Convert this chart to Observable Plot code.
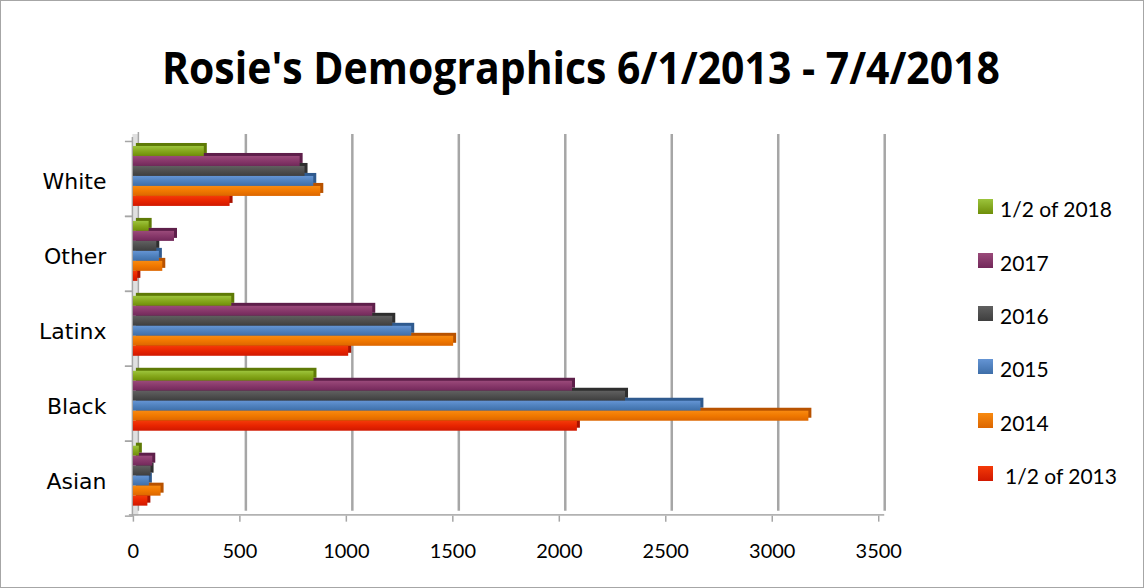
<!DOCTYPE html>
<html>
<head>
<meta charset="utf-8">
<script src="https://cdn.jsdelivr.net/npm/d3@7"></script>
<script src="https://cdn.jsdelivr.net/npm/@observablehq/plot@0.6"></script>
<style>
  html, body { margin: 0; padding: 0; background: #fff; }
  #wrap { position: relative; width: 1144px; height: 588px; box-sizing: border-box; border: 1px solid #a6a6a6; overflow: hidden; background: #fff; }
  #title { position: absolute; left: 0; top: 0; }
  #chart { position: absolute; left: -1px; top: 119px; }
  #legend { position: absolute; left: 977px; top: 0; font-family: Lato, "Open Sans", sans-serif; font-size: 21px; color: #000; }
  .item { position: absolute; left: 0; white-space: nowrap; }
  .sw { position: absolute; left: 0; width: 15px; height: 15px; }
  .lt { position: absolute; left: 22px; top: -3px; }
</style>
</head>
<body>
<div id="wrap">
  <svg id="title" width="1144" height="120">
    <text x="580" y="83" text-anchor="middle" font-family="'Open Sans', sans-serif" font-weight="bold" font-size="45" textLength="838" lengthAdjust="spacingAndGlyphs">Rosie's Demographics 6/1/2013 - 7/4/2018</text>
  </svg>
  <div id="chart"></div>
  <div id="legend"></div>
</div>
<script>
// ---- data ----
const categories = ["White", "Other", "Latinx", "Black", "Asian"];
const seriesNames = ["1/2 of 2018", "2017", "2016", "2015", "2014", "1/2 of 2013"];
const v2018 = [333, 74, 462, 848, 28];
const v2017 = [783, 193, 1124, 2062, 91];
const v2016 = [806, 110, 1218, 2311, 83];
const v2015 = [847, 122, 1307, 2665, 75];
const v2014 = [880, 138, 1504, 3172, 130];
const v2013 = [454, 21, 1011, 2085, 68];
const xTicks = [0, 500, 1000, 1500, 2000, 2500, 3000, 3500];

// ---- styles ----
const seriesValues = [v2018, v2017, v2016, v2015, v2014, v2013];
const colTop = ["#9cc43c", "#9a4a7a", "#606060", "#6494d4", "#f88a10", "#f43a08"];
const colMid = ["#86a81c", "#87386a", "#4f4f4f", "#4f81bd", "#f07800", "#e82400"];
const colBot = ["#6e8e08", "#72285a", "#3e3e3e", "#3e6ea8", "#dc6600", "#d01800"];
const capCol = ["#5e7a06", "#5e1f4a", "#2e2e2e", "#2f5a8e", "#b85200", "#a81200"];

const rows = [];
seriesValues.forEach((vals, s) => {
  categories.forEach((c, i) => rows.push({series: seriesNames[s], s, category: c, value: vals[i]}));
});

const bandH = 75;   // band height in px (plot frame 375 / 5)
const barH = 10;
const topGap = 5;

const marks = [];
// back-wall gridlines
marks.push(Plot.ruleX(xTicks.slice(1), {stroke: "#a6a6a6", strokeWidth: 2.5, dx: 6, insetTop: -7, insetBottom: 5}));
// left wall
marks.push(Plot.ruleX([0], {stroke: "#e0e0e0", strokeWidth: 6, dx: 2, insetTop: -7}));
marks.push(Plot.ruleX([0], {stroke: "#a6a6a6", strokeWidth: 1.5, dx: -1, insetTop: -4}));
marks.push(Plot.ruleX([0], {stroke: "#a6a6a6", strokeWidth: 1.5, dx: 5, insetTop: -9, insetBottom: 5}));
// floor line along the bottom band
marks.push(Plot.barX([categories[categories.length - 1]], {
  x1: xTicks[0], x2: xTicks[xTicks.length - 1], y: d => d,
  insetTop: bandH - 1.5, insetLeft: -4, insetRight: -6, fill: "#a6a6a6"
}));
// left tick marks at band boundaries
marks.push(Plot.axisY({tickSize: 8, tickFormat: () => "", dy: -bandH / 2, stroke: "#a6a6a6", strokeWidth: 1.5, label: null}));
marks.push(Plot.axisY({tickSize: 8, tickFormat: () => "", dy: bandH / 2, stroke: "#a6a6a6", strokeWidth: 1.5, label: null}));
// category labels
marks.push(Plot.axisY({tickSize: 0, tickPadding: 27, dy: 3, fontSize: 22, fill: "#000", fontFamily: "'DejaVu Sans', sans-serif", label: null}));
// x axis
marks.push(Plot.axisX({ticks: xTicks, tickSize: 6, tickPadding: 22, stroke: "#a6a6a6", strokeWidth: 1.5, fill: "#000", fontSize: 20, fontFamily: "Lato, sans-serif", tickFormat: d => String(d), label: null}));
// 3D caps
seriesNames.forEach((name, s) => {
  marks.push(Plot.barX(rows.filter(d => d.s === s), {
    x: "value", y: "category", fill: capCol[s], dx: 3, dy: -3,
    insetTop: topGap + s * barH, insetBottom: bandH - topGap - (s + 1) * barH
  }));
});
// bar faces
seriesNames.forEach((name, s) => {
  marks.push(Plot.barX(rows.filter(d => d.s === s), {
    x: "value", y: "category", fill: `url(#g${s})`,
    insetTop: topGap + s * barH, insetBottom: bandH - topGap - (s + 1) * barH
  }));
});

const chart = Plot.plot({
  width: 1144,
  height: 468,
  marginTop: 21,
  marginBottom: 72,
  marginLeft: 133,
  marginRight: 265,
  style: {background: "transparent", overflow: "visible"},
  x: {domain: [0, 3500], axis: null},
  y: {domain: categories, padding: 0, axis: null},
  marks
});

// gradients for bar faces
const defs = seriesNames.map((n, s) =>
  `<linearGradient id="g${s}" x1="0" y1="0" x2="0" y2="1">
     <stop offset="0" stop-color="${colTop[s]}"/>
     <stop offset="0.5" stop-color="${colMid[s]}"/>
     <stop offset="1" stop-color="${colBot[s]}"/>
   </linearGradient>`).join("");
chart.insertAdjacentHTML("afterbegin", `<defs>${defs}</defs>`);
document.getElementById("chart").appendChild(chart);

// legend
const legend = document.getElementById("legend");
const legendTops = [198, 252, 305, 358, 412, 465];
seriesNames.forEach((name, s) => {
  const item = document.createElement("div");
  item.className = "item";
  item.style.top = legendTops[s] + "px";
  item.innerHTML = `<div class="sw" style="background: linear-gradient(${colTop[s]}, ${colBot[s]})"></div><div class="lt" style="left:${s === 5 ? 27 : 22}px">${name}</div>`;
  legend.appendChild(item);
});
</script>
</body>
</html>
